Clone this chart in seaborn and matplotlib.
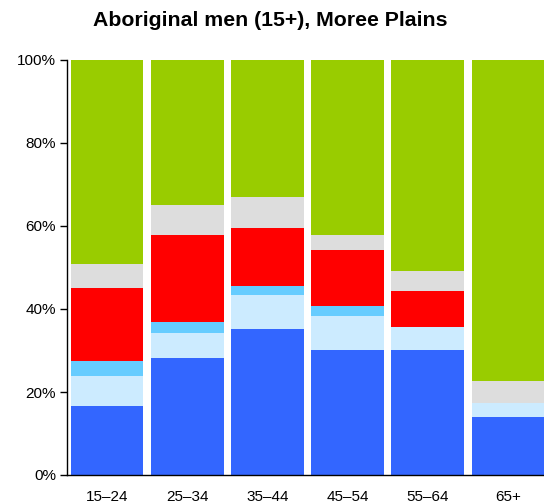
import numpy as np
import pandas as pd
import matplotlib
matplotlib.use("Agg")
import matplotlib.pyplot as plt
import seaborn as sns
from matplotlib.ticker import FixedLocator, PercentFormatter

categories = ["15–24", "25–34", "35–44", "45–54", "55–64", "65+"]
blue = [16.6, 28.3, 35.2, 30.1, 30.1, 14.0]
light_blue = [7.2, 5.8, 8.2, 8.1, 5.6, 3.3]
sky_blue = [3.7, 2.8, 2.1, 2.5, 0.0, 0.0]
red = [17.6, 20.9, 14.0, 13.5, 8.6, 0.0]
grey = [5.7, 7.3, 7.4, 3.6, 4.8, 5.3]
green = [49.2, 34.9, 33.1, 42.2, 50.9, 77.4]

layers = [blue, light_blue, sky_blue, red, grey, green]
colors = ["#3366FF", "#CCEBFF", "#66CCFF", "#FF0000", "#DDDDDD", "#99CC00"]

sns.set_style("white")
plt.rcParams["font.family"] = ["Liberation Sans", "DejaVu Sans"]
plt.rcParams["text.color"] = "black"

fig = plt.figure(figsize=(5.44, 5.04), dpi=100)
ax = fig.add_axes([67 / 544, 1 - 475 / 504, (544 - 67) / 544, (475 - 60) / 504])

cum = np.cumsum(np.array(layers), axis=0)
for i in range(len(layers) - 1, -1, -1):
    df = pd.DataFrame({"cat": categories, "val": cum[i]})
    sns.barplot(data=df, x="cat", y="val", order=categories, color=colors[i],
                width=0.905, saturation=1, linewidth=0, ax=ax)

ax.set_xlim(-0.5, 5.45)
ax.set_ylim(0, 100)
ax.set_xlabel("")
ax.set_ylabel("")
ax.yaxis.set_major_locator(FixedLocator([0, 20, 40, 60, 80, 100]))
ax.yaxis.set_major_formatter(PercentFormatter(decimals=0))
ax.set_xticks(range(len(categories)))
ax.set_xticklabels(categories)
ax.tick_params(axis="x", which="major", length=0, labelsize=11, pad=11, colors="black")
ax.set_xticks([i + 0.5 for i in range(len(categories) - 1)], minor=True)
ax.tick_params(axis="x", which="minor", length=5, width=1, direction="out", color="black")
ax.tick_params(axis="y", length=5, width=1, direction="out", labelsize=11, colors="black", pad=3)
ax.tick_params(axis="y", left=True)
for s in ["top", "right"]:
    ax.spines[s].set_visible(False)
for s in ["left", "bottom"]:
    ax.spines[s].set_color("black")
    ax.spines[s].set_linewidth(1)

fig.text(270 / 544, 1 - 21 / 504, "Aboriginal men (15+), Moree Plains",
         ha="center", va="center", fontsize=15.3, fontweight="bold", color="black")

fig.savefig("out.png", dpi=100)
